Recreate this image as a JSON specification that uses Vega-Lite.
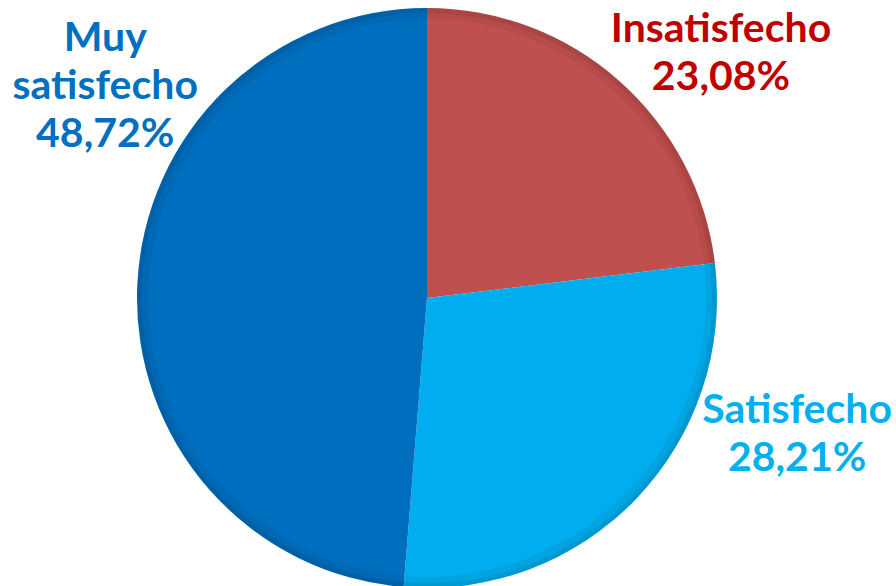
{
  "$schema": "https://vega.github.io/schema/vega-lite/v6.json",
  "width": 854,
  "height": 576,
  "autosize": {"type": "none"},
  "padding": {"left": 0, "top": 10, "right": 42, "bottom": 0},
  "background": "#ffffff",
  "config": {"view": {"stroke": null}, "text": {"font": "Lato"}},
  "data": {
    "values": [
      {"categoria": "Insatisfecho", "valor": 23.08},
      {"categoria": "Satisfecho", "valor": 28.21},
      {"categoria": "Muy satisfecho", "valor": 48.72}
    ]
  },
  "transform": [
    {"calculate": "datum.categoria + ' ' + replace(format(datum.valor, '.2f'), '.', ',') + '%'", "as": "etiqueta"}
  ],
  "layer": [
    {
      "mark": {"type": "arc", "outerRadius": 290},
      "encoding": {
        "theta": {"field": "valor", "type": "quantitative", "stack": true},
        "order": {"field": "valor", "type": "quantitative", "sort": "ascending"},
        "color": {
          "field": "categoria",
          "type": "nominal",
          "scale": {"domain": ["Insatisfecho", "Satisfecho", "Muy satisfecho"], "range": ["#C0504D", "#00ADEE", "#006EBE"]},
          "legend": null
        }
      }
    },
    {
      "mark": {"type": "arc", "innerRadius": 279, "outerRadius": 290, "color": "#000000", "opacity": 0.05},
      "encoding": {
        "theta": {"field": "valor", "type": "quantitative", "stack": true},
        "order": {"field": "valor", "type": "quantitative", "sort": "ascending"}
      }
    },
    {
      "mark": {"type": "arc", "innerRadius": 285, "outerRadius": 290, "color": "#000000", "opacity": 0.07},
      "encoding": {
        "theta": {"field": "valor", "type": "quantitative", "stack": true},
        "order": {"field": "valor", "type": "quantitative", "sort": "ascending"}
      }
    },
    {
      "transform": [{"filter": "datum.categoria === 'Insatisfecho'"}],
      "mark": {"type": "text", "fontSize": 41, "fontWeight": "bold", "lineBreak": " ", "lineHeight": 48, "align": "center", "baseline": "middle", "color": "#C00000"},
      "encoding": {"text": {"field": "etiqueta"}, "theta": {"value": 0.8325}, "radius": {"value": 397.5}}
    },
    {
      "transform": [{"filter": "datum.categoria === 'Satisfecho'"}],
      "mark": {"type": "text", "fontSize": 41, "fontWeight": "bold", "lineBreak": " ", "lineHeight": 48, "align": "center", "baseline": "middle", "color": "#00B0F0"},
      "encoding": {"text": {"field": "etiqueta"}, "theta": {"value": 1.8672}, "radius": {"value": 387}}
    },
    {
      "transform": [{"filter": "datum.categoria === 'Muy satisfecho'"}],
      "mark": {"type": "text", "fontSize": 41, "fontWeight": "bold", "lineBreak": " ", "lineHeight": 48, "align": "center", "baseline": "middle", "color": "#0070C0"},
      "encoding": {"text": {"field": "etiqueta"}, "theta": {"value": 5.390}, "radius": {"value": 413}}
    }
  ]
}
